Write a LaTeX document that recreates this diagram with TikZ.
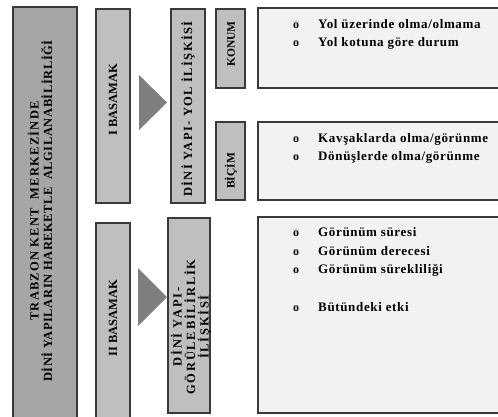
\documentclass[tikz,border=0pt]{standalone}
\usepackage{fontspec}
\setmainfont{Liberation Serif}
\definecolor{gA}{HTML}{A6A6A6}
\definecolor{gB}{HTML}{BFBFBF}
\definecolor{gC}{HTML}{F2F2F2}
\definecolor{gT}{HTML}{7F7F7F}
\definecolor{bord}{HTML}{3A3A3A}
\begin{document}
\begin{tikzpicture}[x=1pt,y=-1pt,
  box/.style={draw=bord, line width=1.1pt, inner sep=0pt, outer sep=0pt, anchor=north west},
  dark/.style={box, fill=gA},
  mid/.style={box, fill=gB},
  light/.style={box, fill=gC},
  vtxt/.style={rotate=90, font=\bfseries\fontsize{12.5}{13.5}\selectfont, align=center, inner sep=0pt},
  stxt/.style={rotate=90, font=\bfseries\fontsize{11.5}{13}\selectfont, inner sep=0pt},
  rtxt/.style={anchor=base west, inner sep=0pt, font=\bfseries\fontsize{13}{14}\selectfont\addfontfeature{LetterSpace=5}},
  bul/.style={anchor=base west, inner sep=0pt, font=\bfseries\fontsize{12}{14}\selectfont},
  tri/.style={fill=gT, draw=none}
]
\useasboundingbox (0,0) rectangle (498,416);
\fill[white] (0,0) rectangle (498,416);

% left big box
\node[dark, minimum width=64pt, minimum height=420pt] (leftbox) at (13,7) {};
\node[vtxt] (lefttext) at (40,211) {{\addfontfeature{LetterSpace=10}TRABZON KENT\ \ MERKEZİNDE}\\{\addfontfeature{LetterSpace=4.5}DİNİ YAPILARIN HAREKETLE\ \ ALGILANABİLİRLİĞİ}};

% stage I
\node[mid, minimum width=34pt, minimum height=194pt] (b1) at (96,9) {};
\node[vtxt] (b1t) at (113,100) {I BASAMAK};
\fill[tri] (139,75) -- (167,102.5) -- (139,130) -- cycle;
\node[mid, minimum width=34pt, minimum height=194pt] (y1) at (171,9) {};
\node[vtxt] (y1t) at (188,109) {\addfontfeature{LetterSpace=11}DİNİ YAPI- YOL İLİŞKİSİ};
\node[mid, minimum width=29pt, minimum height=79pt] (k1) at (216,9) {};
\node[stxt] (k1t) at (231,44) {KONUM};
\node[mid, minimum width=29pt, minimum height=78pt] (c1) at (216,122) {};
\node[stxt] (c1t) at (231,171) {BİÇİM};

% stage II
\node[mid, minimum width=34pt, minimum height=200pt] (b2) at (96,223) {};
\node[vtxt] (b2t) at (113,318) {II BASAMAK};
\fill[tri] (138,268) -- (167,297) -- (138,326) -- cycle;
\node[mid, minimum width=42pt, minimum height=195pt] (y2) at (168,218) {};
\node[vtxt] (y2t) at (191,327) {\addfontfeature{LetterSpace=14}DİNİ YAPI-\\\addfontfeature{LetterSpace=14}GÖRÜLEBİLİRLİK\\\addfontfeature{LetterSpace=14}İLİŞKİSİ};

% right boxes
\node[light, minimum width=250pt, minimum height=80pt] (r1) at (258,8) {};
\node[light, minimum width=250pt, minimum height=78pt] (r2) at (258,122) {};
\node[light, minimum width=250pt, minimum height=196pt] (r3) at (258,217) {};

\node[bul] (o1) at (293,28) {o};
\node[rtxt] (t1) at (318,28) {Yol üzerinde olma/olmama};
\node[bul] (o2) at (293,46) {o};
\node[rtxt] (t2) at (318,46) {Yol kotuna göre durum};

\node[bul] (o3) at (293,142) {o};
\node[rtxt] (t3) at (318,142) {Kavşaklarda olma/görünme};
\node[bul] (o4) at (293,160) {o};
\node[rtxt] (t4) at (318,160) {Dönüşlerde olma/görünme};

\node[bul] (o5) at (293,236) {o};
\node[rtxt] (t5) at (318,236) {Görünüm süresi};
\node[bul] (o6) at (293,255) {o};
\node[rtxt] (t6) at (318,255) {Görünüm derecesi};
\node[bul] (o7) at (293,273) {o};
\node[rtxt] (t7) at (318,273) {Görünüm sürekliliği};
\node[bul] (o8) at (293,311) {o};
\node[rtxt] (t8) at (318,311) {Bütündeki etki};
\end{tikzpicture}
\end{document}
